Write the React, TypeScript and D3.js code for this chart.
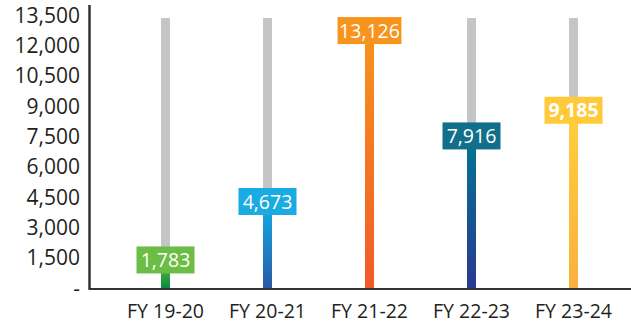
import React from "react";
import * as d3 from "d3";

const categories = ["FY 19-20", "FY 20-21", "FY 21-22", "FY 22-23", "FY 23-24"];
const values = [1783, 4673, 13126, 7916, 9185];
const trackMax = 13350;
const yTicks = [0, 1500, 3000, 4500, 6000, 7500, 9000, 10500, 12000, 13500];
const boxColors = ["#6cbd45", "#1aabe2", "#f7941d", "#116f8c", "#ffca3a"];
const gradTop = ["#6cbd45", "#0fb0e8", "#f7941d", "#007693", "#ffcf3c"];
const gradBottom = ["#0a8a3e", "#2a5aa6", "#f15a29", "#2b3990", "#fbb040"];
const boldLabel = [false, false, false, false, true];

const W = 631;
const H = 325;
const FONT = "'Open Sans', 'DejaVu Sans', sans-serif";

export default function App() {
  const x = d3.scalePoint<string>().domain(categories).range([165.5, 573.5]);
  const y = d3.scaleLinear().domain([0, 13500]).range([288, 15]);
  const fmt = d3.format(",");
  const barW = 9;
  const labelFs = 19.5;
  const boxH = 27;
  const labelOffset = 8;

  const textWidth = (s: string) => {
    let w = 0;
    for (const ch of s) w += ch === "," ? 0.26 : 0.572;
    return w * labelFs;
  };

  return (
    <svg
      width={W}
      height={H}
      style={{ position: "absolute", left: 0, top: 0, background: "#fff" }}
      fontFamily={FONT}
    >
      <defs>
        {values.map((_, i) => (
          <linearGradient key={i} id={`g${i}`} x1="0" y1="0" x2="0" y2="1">
            <stop offset="0%" stopColor={gradTop[i]} />
            <stop offset="100%" stopColor={gradBottom[i]} />
          </linearGradient>
        ))}
      </defs>

      {/* y tick labels */}
      {yTicks.map((t) => (
        <text
          key={t}
          x={80}
          y={y(t)}
          dy="0.36em"
          textAnchor="end"
          fontSize={21}
          fill="#231f20"
        >
          {t === 0 ? "-" : fmt(t)}
        </text>
      ))}

      {/* tracks and bars */}
      {categories.map((c, i) => {
        const cx = x(c) as number;
        const v = values[i];
        const cy = y(v) + labelOffset;
        const label = fmt(v);
        const bw = Math.max(58, textWidth(label) + 3);
        return (
          <g key={c}>
            <rect
              x={cx - barW / 2}
              y={y(trackMax)}
              width={barW}
              height={y(0) - y(trackMax)}
              fill="#c4c5c7"
            />
            <rect
              x={cx - barW / 2}
              y={cy}
              width={barW}
              height={y(0) - cy}
              fill={`url(#g${i})`}
            />
            <rect
              x={cx - bw / 2}
              y={cy - boxH / 2}
              width={bw}
              height={boxH}
              fill={boxColors[i]}
            />
            <text
              x={cx}
              y={cy}
              dy="0.36em"
              textAnchor="middle"
              fontSize={labelFs}
              fontWeight={boldLabel[i] ? 700 : 400}
              fill="#fff"
            >
              {label}
            </text>
            <text
              x={cx}
              y={318}
              textAnchor="middle"
              fontSize={19.5}
              fill="#231f20"
            >
              {c}
            </text>
          </g>
        );
      })}

      {/* axes */}
      <line x1={89.5} y1={5} x2={89.5} y2={289} stroke="#333" strokeWidth={2.5} />
      <line x1={88.5} y1={289} x2={631} y2={289} stroke="#333" strokeWidth={2} />
    </svg>
  );
}
